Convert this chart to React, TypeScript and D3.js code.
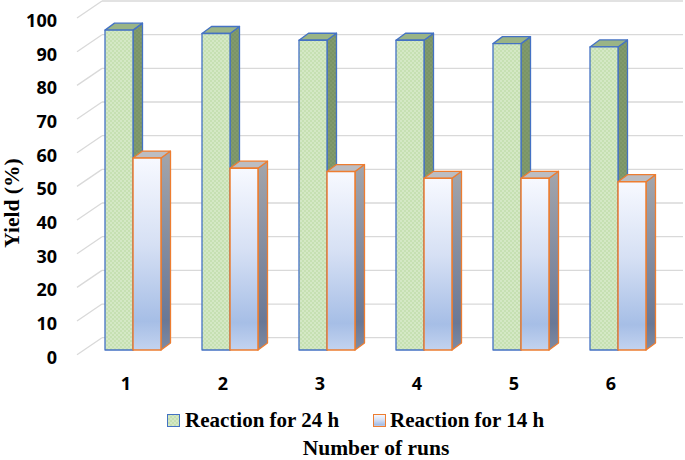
import React from "react";
import * as d3 from "d3";

const categories = ["1", "2", "3", "4", "5", "6"];
const series = ["Reaction for 24 h", "Reaction for 14 h"];
const yield24 = [95, 94, 92, 92, 91, 90];
const yield14 = [57, 54, 53, 51, 51, 50];
const yTicks = [0, 10, 20, 30, 40, 50, 60, 70, 80, 90, 100];

const W = 685;
const H = 460;
const DX = 9.5; // bar depth offset
const DY = -7;
const WALL_DX = 25;
const WALL_DY = -17;

export default function App() {
  // front plane of bars
  const y = d3.scaleLinear().domain([0, 100]).range([350, 13.3]);
  const x0 = d3.scaleBand<string>().domain(categories).range([64, 687]).paddingInner(41 / 97).paddingOuter(41 / 97).align(0.5);
  const x1 = d3.scaleBand<string>().domain(series).range([0, x0.bandwidth()]).padding(0);
  const wallOff = -12.3;
  const data = [yield24, yield14];

  const bar = (cat: string, si: number, v: number) => {
    const xl = (x0(cat) as number) + (x1(series[si]) as number);
    const xr = xl + x1.bandwidth();
    const yt = y(v);
    const yb = y(0);
    const front = `M${xl},${yt}L${xr},${yt}L${xr},${yb}L${xl},${yb}Z`;
    const side = `M${xr},${yt}L${xr + DX},${yt + DY}L${xr + DX},${yb + DY}L${xr},${yb}Z`;
    const top = `M${xl},${yt}L${xl + DX},${yt + DY}L${xr + DX},${yt + DY}L${xr},${yt}Z`;
    if (si === 0) {
      return (
        <g key={`${cat}-${si}`}>
          <path d={side} fill="url(#greenSide)" stroke="#4472c4" strokeWidth={1.3} strokeLinejoin="round" />
          <path d={top} fill="#9ab486" stroke="#4472c4" strokeWidth={1.3} strokeLinejoin="round" />
          <path d={front} fill="url(#greenDots)" stroke="#4472c4" strokeWidth={1.3} strokeLinejoin="round" />
        </g>
      );
    }
    return (
      <g key={`${cat}-${si}`}>
        <path d={side} fill="url(#orangeSide)" stroke="#ed7d31" strokeWidth={1.3} strokeLinejoin="round" />
        <path d={top} fill="#bcbdc2" stroke="#ed7d31" strokeWidth={1.3} strokeLinejoin="round" />
        <path d={front} fill="url(#blueGrad)" stroke="#ed7d31" strokeWidth={1.5} strokeLinejoin="round" />
      </g>
    );
  };

  return (
    <svg width={W} height={H} style={{ position: "absolute", left: 0, top: 0, background: "#fff" }}>
      <defs>
        <pattern id="greenDots" width={4} height={4} patternUnits="userSpaceOnUse">
          <rect width={4} height={4} fill="#c6e0b2" />
          <circle cx={1} cy={1} r={0.75} fill="#eaf4e2" />
          <circle cx={3} cy={3} r={0.75} fill="#eaf4e2" />
        </pattern>
        <pattern id="greenSide" width={4} height={4} patternUnits="userSpaceOnUse">
          <rect width={4} height={4} fill="#7a9466" />
          <circle cx={1} cy={1} r={0.7} fill="#8da679" />
          <circle cx={3} cy={3} r={0.7} fill="#8da679" />
        </pattern>
        <linearGradient id="blueGrad" x1="0" y1="0" x2="0" y2="1">
          <stop offset="0" stopColor="#f7f9ff" />
          <stop offset="0.45" stopColor="#d6e0f4" />
          <stop offset="0.85" stopColor="#a6bee6" />
          <stop offset="1" stopColor="#c3d3ef" />
        </linearGradient>
        <linearGradient id="orangeSide" x1="0" y1="0" x2="0" y2="1">
          <stop offset="0" stopColor="#a3a5ab" />
          <stop offset="0.85" stopColor="#6a7896" />
          <stop offset="1" stopColor="#7f8ba3" />
        </linearGradient>
      </defs>

      {/* gridlines: back wall + left wall diagonals */}
      {yTicks.map((t) => (
        <g key={`g${t}`} stroke="#d9d9d9" strokeWidth={1.3}>
          <line x1={77 + WALL_DX} x2={683} y1={y(t) + wallOff} y2={y(t) + wallOff} />
          <line x1={77} y1={y(t) + wallOff - WALL_DY} x2={77 + WALL_DX} y2={y(t) + wallOff} />
        </g>
      ))}

      {/* y tick labels */}
      {yTicks.map((t) => (
        <text key={`t${t}`} x={57} y={y(t) + 13.8} textAnchor="end" fontFamily="'Open Sans', sans-serif" fontWeight="bold" fontSize={18} fill="#000">
          {t}
        </text>
      ))}

      {/* bars */}
      {categories.map((c, i) => (
        <g key={c}>
          {data.map((arr, si) => bar(c, si, arr[i]))}
        </g>
      ))}

      {/* category labels */}
      {categories.map((c) => (
        <text key={`c${c}`} x={(x0(c) as number) + 21} y={389.5} textAnchor="middle" fontFamily="'Open Sans', sans-serif" fontWeight="bold" fontSize={18} fill="#000">
          {c}
        </text>
      ))}

      {/* y title */}
      <text transform="translate(19,203) rotate(-90)" textAnchor="middle" fontFamily="'Liberation Serif', 'Times New Roman', serif" fontWeight="bold" fontSize={21.5} fill="#000">
        Yield (%)
      </text>

      {/* legend */}
      <rect x={167.5} y={414.5} width={12} height={12} fill="url(#greenDots)" stroke="#4472c4" strokeWidth={1} />
      <text x={185} y={427} fontFamily="'Liberation Serif', 'Times New Roman', serif" fontWeight="bold" fontSize={21} fill="#000">
        {series[0]}
      </text>
      <rect x={373.5} y={414.5} width={12} height={12} fill="url(#blueGrad)" stroke="#ed7d31" strokeWidth={1} />
      <text x={390} y={427} fontFamily="'Liberation Serif', 'Times New Roman', serif" fontWeight="bold" fontSize={21} fill="#000">
        {series[1]}
      </text>

      {/* x title */}
      <text x={376} y={455} textAnchor="middle" fontFamily="'Liberation Serif', 'Times New Roman', serif" fontWeight="bold" fontSize={21.5} fill="#000">
        Number of runs
      </text>
    </svg>
  );
}
